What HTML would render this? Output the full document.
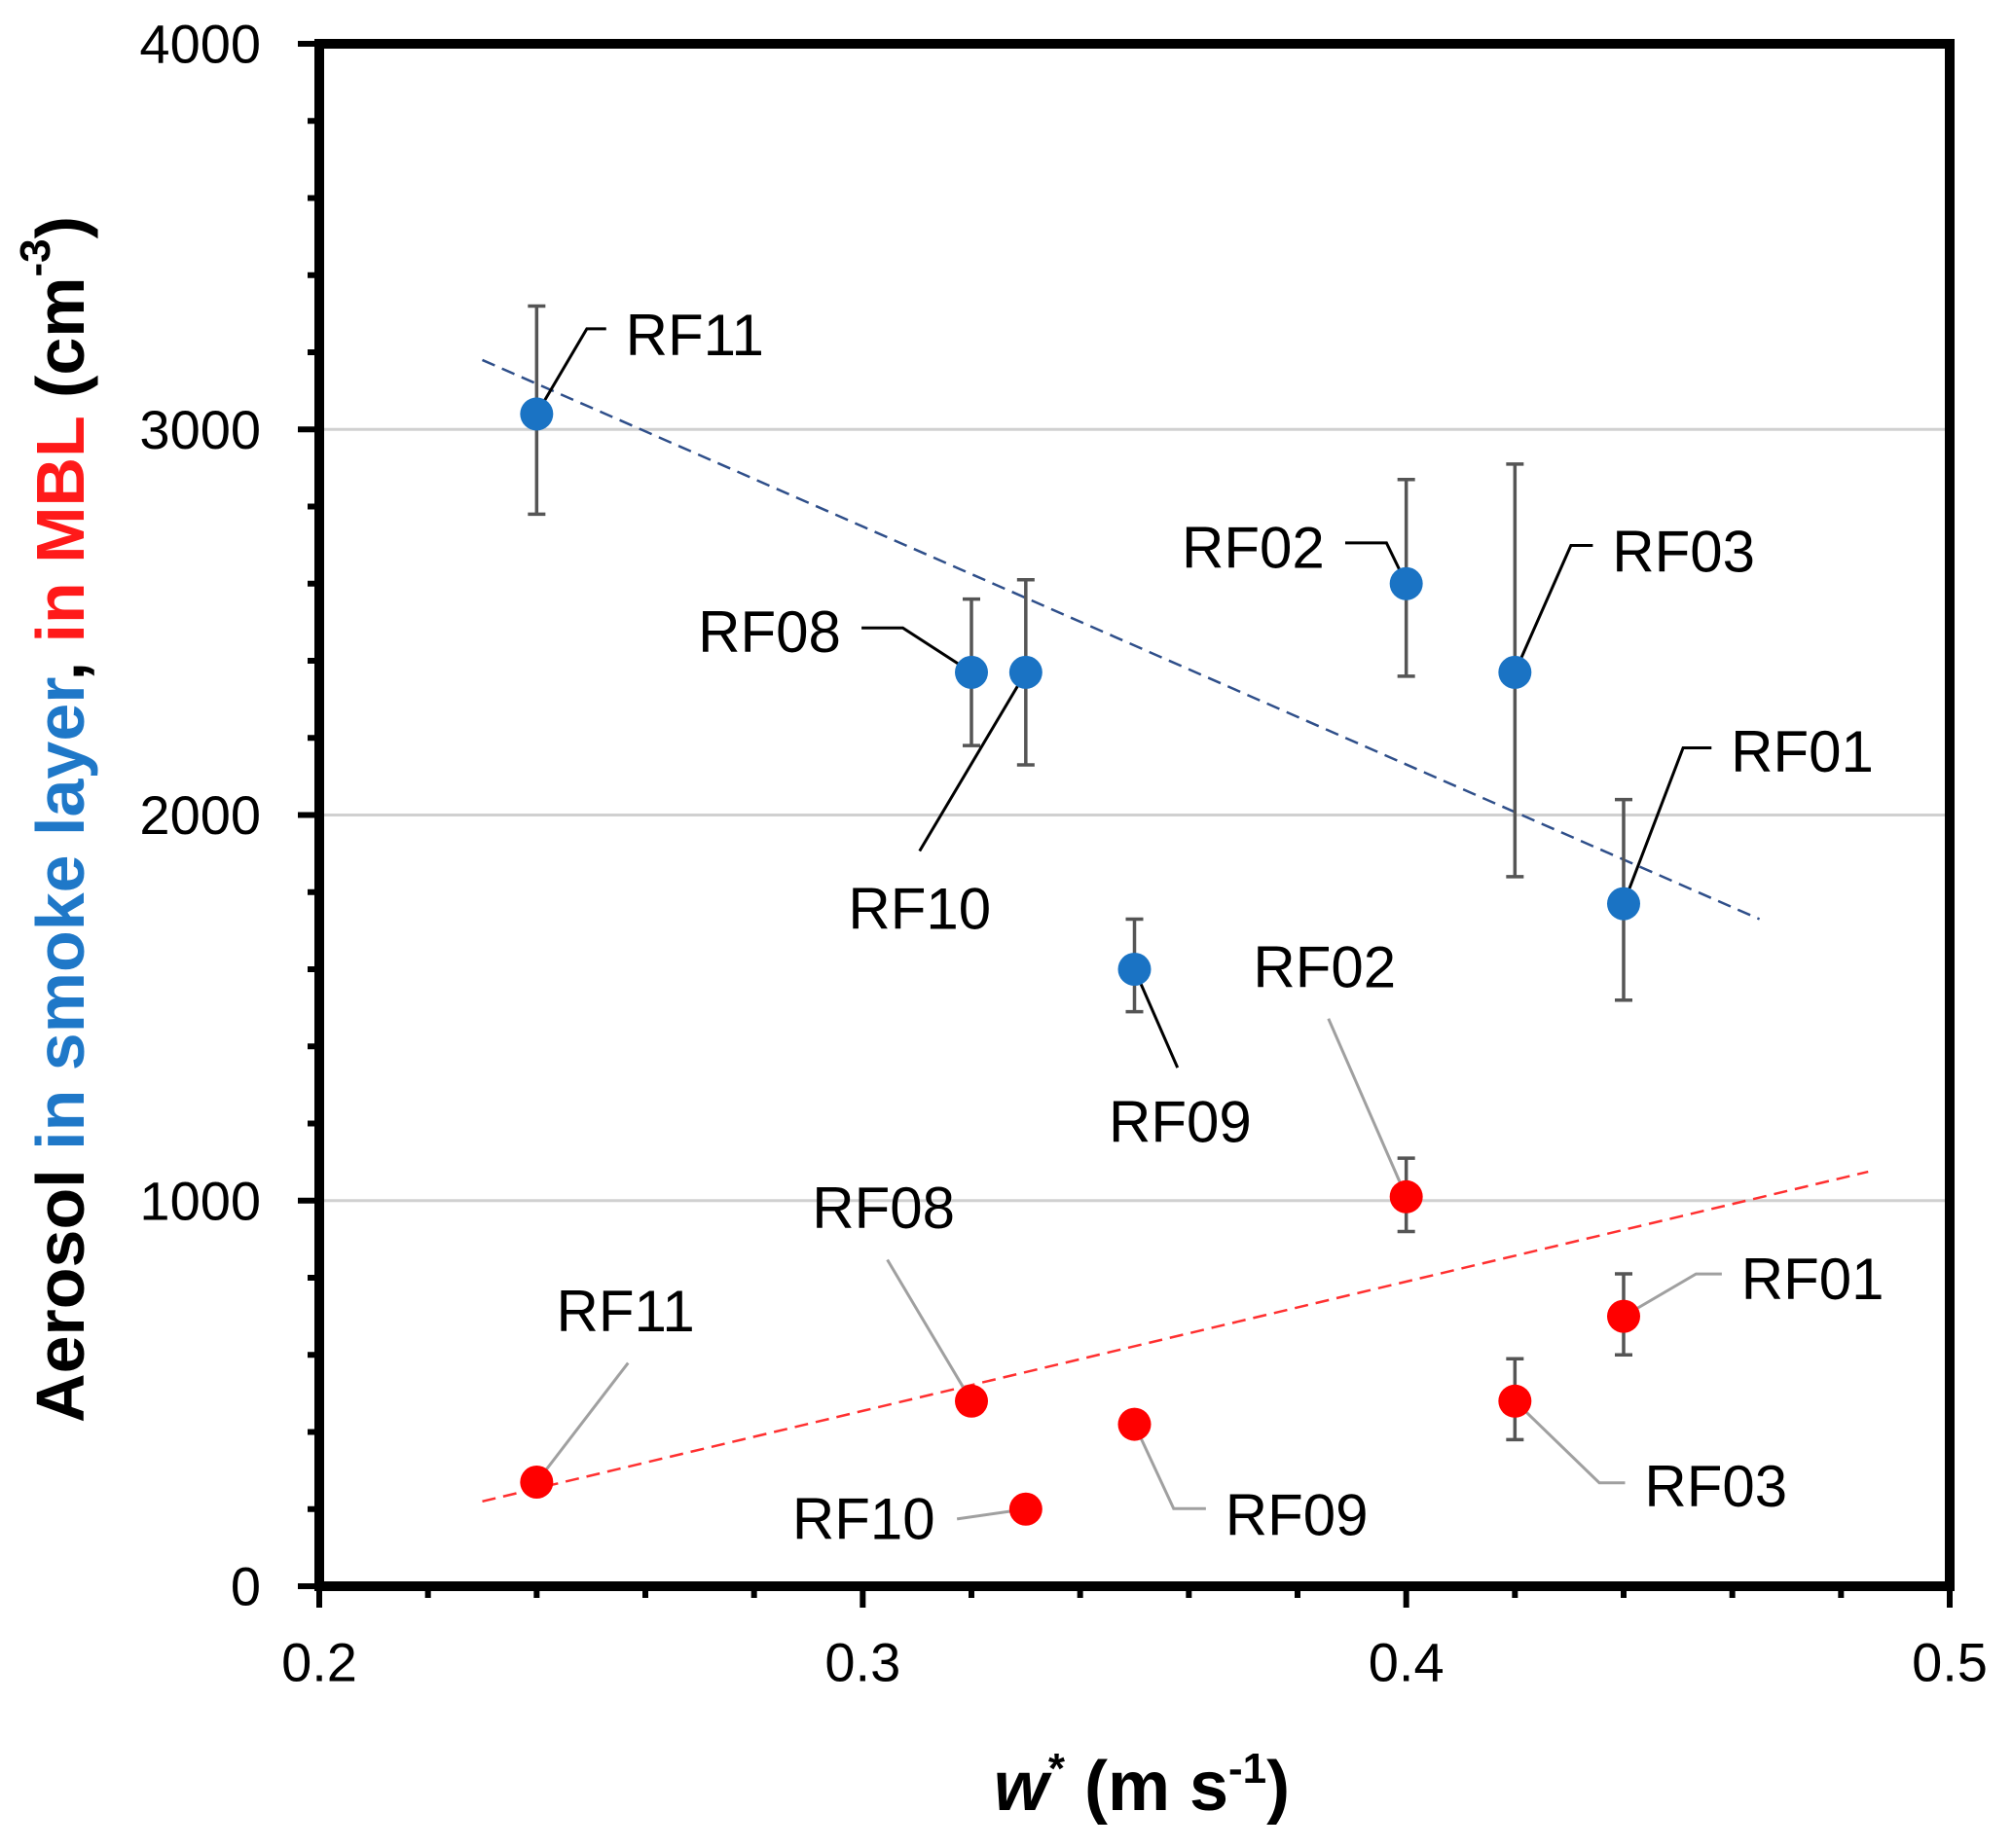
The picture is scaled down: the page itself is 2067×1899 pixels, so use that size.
<!DOCTYPE html>
<html><head><meta charset="utf-8"><style>
html,body{margin:0;padding:0;background:#fff}
svg{display:block}
text{font-family:"Liberation Sans",sans-serif}
</style></head><body>
<svg id="chart" width="2067" height="1899" viewBox="0 0 2067 1899" xmlns="http://www.w3.org/2000/svg">
<g id="grid"></g>
<g id="trend"></g>
<g id="errs"></g>
<g id="leaders"></g>
<g id="pts"></g>
<g id="labels"></g>
<g id="axes"></g>
<text transform="translate(62,842) rotate(-90)" text-anchor="middle" dominant-baseline="central" font-size="70" font-weight="bold"><tspan fill="#000">Aerosol </tspan><tspan fill="#1f78c8">in smoke layer</tspan><tspan fill="#000">, </tspan><tspan fill="#ff1a1a">in MBL</tspan><tspan fill="#000"> (cm</tspan><tspan fill="#000" font-size="44" dy="-26">-3</tspan><tspan fill="#000" dy="26">)</tspan></text>
<text x="1173" y="1860" text-anchor="middle" font-size="72" font-weight="bold"><tspan font-style="italic">w</tspan><tspan font-size="44" dy="-28">*</tspan><tspan dy="28"> (m s</tspan><tspan font-size="44" dy="-28">-1</tspan><tspan dy="28">)</tspan></text>
</svg>
<script>
const categories = ["RF11","RF08","RF10","RF09","RF02","RF03","RF01"];
const wstar = [0.24,0.32,0.33,0.35,0.40,0.42,0.44];
const smoke = [3040,2370,2370,1600,2600,2370,1770];
const smokeLo = [2780,2180,2130,1490,2360,1840,1520];
const smokeHi = [3320,2560,2610,1730,2870,2910,2040];
const mbl = [270,480,200,420,1010,480,700];
const mblLo = [270,460,200,400,920,380,600];
const mblHi = [270,510,200,450,1110,590,810];
const smokeTrend = [[0.23,3180],[0.465,1730]];
const mblTrend = [[0.23,220],[0.485,1075]];
const yTicks = [0,1000,2000,3000,4000];
const xTicks = [0.2,0.3,0.4,0.5];
const xTickLabels = ["0.2","0.3","0.4","0.5"];

const X0=328,X1=2003,Y0=1630,Y1=45;
const xs=v=>X0+(v-0.2)/0.3*(X1-X0);
const ys=v=>Y0-v/4000*(Y0-Y1);
const NS="http://www.w3.org/2000/svg";
function mk(tag,parent,attrs){const e=document.createElementNS(NS,tag);for(const k in attrs)e.setAttribute(k,attrs[k]);document.getElementById(parent).appendChild(e);return e;}

[1000,2000,3000].forEach(v=>{
 const l=mk('line','grid',{x1:X0,x2:X1,y1:ys(v),y2:ys(v),stroke:'#d0d0d0','stroke-width':3});
 
 
});
[[smokeTrend,'#2f4f8a','smoke'],[mblTrend,'#ff3030','mbl']].forEach(([t,c,n])=>{
 const l=mk('line','trend',{x1:xs(t[0][0]),y1:ys(t[0][1]),x2:xs(t[1][0]),y2:ys(t[1][1]),stroke:c,'stroke-width':2.5,'stroke-dasharray':'14 8'});
 
 
});
function err(lo,hi,i,n){
 if(hi-lo<1)return;
 const x=xs(wstar[i]),a=ys(lo),b=ys(hi);
 const g=mk('path','errs',{d:`M${x},${a}V${b}M${x-9},${a}H${x+9}M${x-9},${b}H${x+9}`,stroke:'#555','stroke-width':3.5,fill:'none'});
 
 
}
categories.forEach((c,i)=>{err(smokeLo[i],smokeHi[i],i,'smoke');err(mblLo[i],mblHi[i],i,'mbl');});
categories.forEach((c,i)=>{
 const p=mk('circle','pts',{cx:xs(wstar[i]),cy:ys(smoke[i]),r:17,fill:'#1a73c4'});
 
 
 const q=mk('circle','pts',{cx:xs(wstar[i]),cy:ys(mbl[i]),r:17,fill:'#ff0000'});
 
 
});
const S=1.325;
const smokeLab={RF11:{pts:[[455,255],[470,255]],t:[485,260,'start']},
 RF08:{pts:[[700,487],[668,487]],t:[652,490,'end']},
 RF10:{pts:[[713,660]],t:[713,705,'middle']},
 RF02:{pts:[[1075,421],[1043,421]],t:[1027,425,'end']},
 RF03:{pts:[[1218,423],[1235,423]],t:[1250,428,'start']},
 RF01:{pts:[[1305,580],[1327,580]],t:[1342,583,'start']},
 RF09:{pts:[[913,828]],t:[915,870,'middle']}};
const mblLab={RF02:{pts:[[1030,790]],t:[1027,750,'middle']},
 RF08:{pts:[[688,977]],t:[685,937,'middle']},
 RF11:{pts:[[487,1057]],t:[485,1017,'middle']},
 RF10:{pts:[[742,1178]],t:[725,1178,'end']},
 RF09:{pts:[[910,1170],[935,1170]],t:[950,1175,'start']},
 RF03:{pts:[[1240,1150],[1260,1150]],t:[1275,1153,'start']},
 RF01:{pts:[[1315,988],[1335,988]],t:[1350,992,'start']}};
function lab(set,vals,col,n){
 categories.forEach((c,i)=>{
  const L=set[c];if(!L)return;
  let d=`M${xs(wstar[i])},${ys(vals[i])}`;
  L.pts.forEach(p=>d+=`L${p[0]*S},${p[1]*S}`);
  const pl=mk('path','leaders',{d:d,stroke:col,'stroke-width':3,fill:'none'});
  
  
  const t=mk('text','labels',{x:L.t[0]*S,y:L.t[1]*S,'text-anchor':L.t[2],'dominant-baseline':'central','font-size':60,fill:'#000'});
  t.textContent=c;
  
  
 });
}
lab(smokeLab,smoke,'#000','smoke');
lab(mblLab,mbl,'#a0a0a0','mbl');
const fr=mk('rect','axes',{x:X0,y:Y1,width:X1-X0,height:Y0-Y1,fill:'none',stroke:'#000','stroke-width':10});


for(let v=0;v<=4000;v+=200){
 const major=v%1000===0;
 const t=mk('line','axes',{x1:X0-(major?22:12),x2:X0,y1:ys(v),y2:ys(v),stroke:'#000','stroke-width':6});
 
 
}
for(let k=0;k<=15;k++){
 const x=X0+k*(X1-X0)/15;const major=k%5===0;
 const t=mk('line','axes',{x1:x,x2:x,y1:Y0,y2:Y0+(major?22:12),stroke:'#000','stroke-width':6});
 
 
}
yTicks.forEach(v=>{
 const t=mk('text','axes',{x:268,y:ys(v),'text-anchor':'end','dominant-baseline':'central','font-size':56});
 t.textContent=v;
 
 
});
xTicks.forEach((v,i)=>{
 const t=mk('text','axes',{x:xs(v),y:1708,'text-anchor':'middle','dominant-baseline':'central','font-size':56});
 t.textContent=xTickLabels[i];
 
 
});
</script>
</body></html>
